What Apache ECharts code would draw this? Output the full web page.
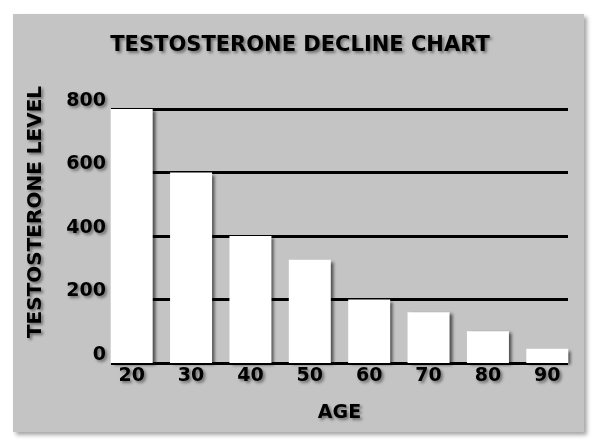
<!DOCTYPE html>
<html>
<head>
<meta charset="utf-8">
<style>html,body{margin:0;padding:0;background:#fff;}#c{width:600px;height:448px;}</style>
<script src="https://cdn.jsdelivr.net/npm/echarts@6/dist/echarts.min.js"></script>
</head>
<body>
<div id="c"></div>
<script>
const titleText = 'TESTOSTERONE DECLINE CHART';
const xName = 'AGE';
const yName = 'TESTOSTERONE LEVEL';
const ages = ['20', '30', '40', '50', '60', '70', '80', '90'];
const levels = [800, 600, 400, 325, 200, 160, 100, 45];
const yMin = 0, yMax = 800, yStep = 200;

const FONT = 'DejaVu Sans';
const shadow = {textShadowColor: 'rgba(0,0,0,0.45)', textShadowBlur: 3, textShadowOffsetX: 2, textShadowOffsetY: 2};

const chart = echarts.init(document.getElementById('c'), null, {renderer: 'canvas'});
chart.setOption({
  backgroundColor: '#ffffff',
  animation: false,
  title: {
    text: titleText, left: 'center', top: 30,
    textStyle: Object.assign({fontFamily: FONT, fontWeight: 'bold', fontSize: 21, color: '#000'}, shadow)
  },
  graphic: [
    {type: 'rect', z: -10, shape: {x: 13, y: 14, width: 571, height: 418},
     style: {fill: '#c4c4c4', shadowBlur: 4, shadowColor: 'rgba(0,0,0,0.35)', shadowOffsetX: 3, shadowOffsetY: 3}},
    {type: 'text', x: 36, y: 212, rotation: Math.PI / 2, z: 10,
     style: Object.assign({text: yName, fontFamily: FONT, fontWeight: 'bold', fontSize: 20, fill: '#000',
       textAlign: 'center', textVerticalAlign: 'middle'}, shadow)}
  ],
  grid: [
    {left: 102, right: 23, top: 109, bottom: 85},
    {left: 111, right: 32, top: 109, bottom: 85}
  ],
  xAxis: [
    {type: 'category', gridIndex: 0, data: ages,
     axisLine: {show: false}, axisTick: {show: false},
     axisLabel: Object.assign({fontFamily: FONT, fontWeight: 'bold', fontSize: 19, color: '#000', margin: 4}, shadow),
     name: xName, nameLocation: 'middle', nameGap: 41,
     nameTextStyle: Object.assign({fontFamily: FONT, fontWeight: 'bold', fontSize: 19, color: '#000'}, shadow)},
    {type: 'category', gridIndex: 1, data: ages, show: false}
  ],
  yAxis: [
    {type: 'value', gridIndex: 0, min: yMin, max: yMax, interval: yStep, show: false, splitLine: {show: false}},
    {type: 'value', gridIndex: 1, min: yMin, max: yMax, interval: yStep,
     axisLine: {show: false}, axisTick: {show: false},
     splitLine: {show: true, lineStyle: {color: '#000', width: 3}},
     axisLabel: Object.assign({fontFamily: FONT, fontWeight: 'bold', fontSize: 19, color: '#000', margin: 5,
       verticalAlign: 'bottom', lineHeight: 16}, shadow)}
  ],
  series: [{
    type: 'bar', xAxisIndex: 0, yAxisIndex: 0, data: levels, barWidth: 42,
    itemStyle: {color: '#ffffff', shadowBlur: 3, shadowColor: 'rgba(0,0,0,0.6)', shadowOffsetX: 3, shadowOffsetY: 2}
  }]
});
</script>
</body>
</html>
